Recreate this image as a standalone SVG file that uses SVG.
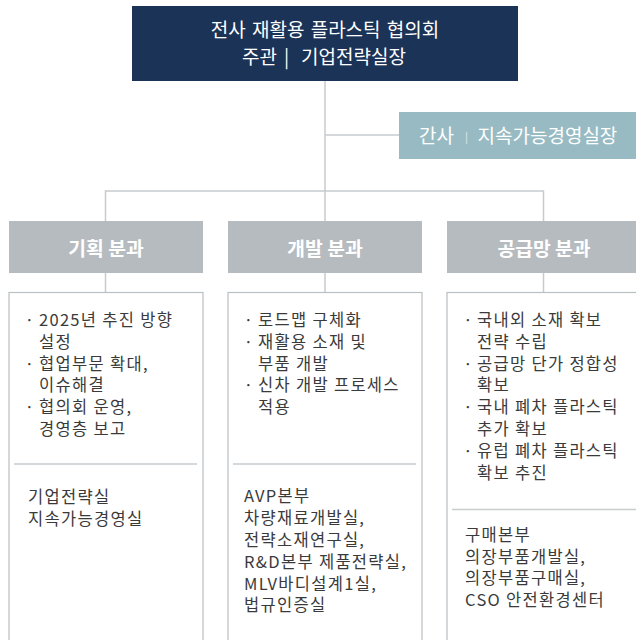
<svg xmlns="http://www.w3.org/2000/svg" width="636" height="640" viewBox="0 0 636 640">
<style>
text{font-family:"Noto Sans CJK KR","Noto Sans",sans-serif}
.top{fill:#1c3358}
.side{fill:#98bbc3}
.hdr{fill:#b5bbbf}
.box{fill:#fff;stroke:#b9bfc3;stroke-width:1.2}
.div{stroke:#c8cdd0;stroke-width:1.5}
.conn{stroke:#c6cbcf;stroke-width:1.5;fill:none}
.tw{fill:#fff;font-size:19px}
.th{fill:#fff;font-size:19.3px;font-weight:700}
.tb{fill:#3a3a3a;font-size:16.5px;letter-spacing:1.3px}
.bul{text-anchor:middle;letter-spacing:0}
</style>
<g id="connectors">
<path class="conn" d="M325 81V221M325 135H399M105.5 221V191H543.5V221M105.5 273V293M325 273V293M543.5 273V293"/>
</g>
<g id="node-top">
<rect class="top" x="132" y="6" width="386" height="75"/>
<text class="tw" x="325" y="37" text-anchor="middle" word-spacing="2">전사 재활용 플라스틱 협의회</text>
<text class="tw" y="64"><tspan x="242">주관</tspan><tspan x="284">|</tspan><tspan x="301">기업전략실장</tspan></text>
</g>
<g id="node-side">
<rect class="side" x="399" y="112" width="237" height="47"/>
<text class="tw" y="143" font-size="19.5"><tspan x="419">간사</tspan><tspan x="465" font-size="11" fill-opacity="0.7" dy="-2">|</tspan><tspan x="477.5" dy="2">지속가능경영실장</tspan></text>
</g>
<g id="node-plan">
<rect class="hdr" x="9" y="221" width="194" height="52"/>
<text class="th" x="106" y="256" text-anchor="middle">기획 분과</text>
<rect class="box" x="9" y="292.5" width="194" height="360"/>
<line class="div" x1="14" y1="464" x2="197" y2="464"/>
<text class="tb bul" x="29.5" y="326">·</text><text class="tb" x="39" y="326">2025년 추진 방향</text>
<text class="tb" x="39" y="347.8">설정</text>
<text class="tb bul" x="29.5" y="369.6">·</text><text class="tb" x="39" y="369.6">협업부문 확대,</text>
<text class="tb" x="39" y="391.4">이슈해결</text>
<text class="tb bul" x="29.5" y="413.2">·</text><text class="tb" x="39" y="413.2">협의회 운영,</text>
<text class="tb" x="39" y="435">경영층 보고</text>
<text class="tb" x="28" y="503">기업전략실</text>
<text class="tb" x="28" y="524.8">지속가능경영실</text>
</g>
<g id="node-dev">
<rect class="hdr" x="228" y="221" width="194" height="52"/>
<text class="th" x="325" y="256" text-anchor="middle">개발 분과</text>
<rect class="box" x="228" y="292.5" width="194" height="360"/>
<line class="div" x1="233" y1="464" x2="416" y2="464"/>
<text class="tb bul" x="248.5" y="326">·</text><text class="tb" x="258" y="326">로드맵 구체화</text>
<text class="tb bul" x="248.5" y="347.8">·</text><text class="tb" x="258" y="347.8">재활용 소재 및</text>
<text class="tb" x="258" y="369.6">부품 개발</text>
<text class="tb bul" x="248.5" y="391.4">·</text><text class="tb" x="258" y="391.4">신차 개발 프로세스</text>
<text class="tb" x="258" y="413.2">적용</text>
<text class="tb" x="244" y="502.3">AVP본부</text>
<text class="tb" x="244" y="524.1">차량재료개발실,</text>
<text class="tb" x="244" y="545.9">전략소재연구실,</text>
<text class="tb" x="244" y="567.7">R&amp;D본부 제품전략실,</text>
<text class="tb" x="244" y="589.5">MLV바디설계1실,</text>
<text class="tb" x="244" y="611.3">법규인증실</text>
</g>
<g id="node-supply">
<rect class="hdr" x="447" y="221" width="194" height="52"/>
<text class="th" x="544" y="256" text-anchor="middle">공급망 분과</text>
<rect class="box" x="447" y="292.5" width="200" height="360"/>
<line class="div" x1="452" y1="509.5" x2="640" y2="509.5"/>
<text class="tb bul" x="468" y="326">·</text><text class="tb" x="477" y="326">국내외 소재 확보</text>
<text class="tb" x="477" y="347.8">전략 수립</text>
<text class="tb bul" x="468" y="369.6">·</text><text class="tb" x="477" y="369.6">공급망 단가 정합성</text>
<text class="tb" x="477" y="391.4">확보</text>
<text class="tb bul" x="468" y="413.2">·</text><text class="tb" x="477" y="413.2">국내 폐차 플라스틱</text>
<text class="tb" x="477" y="435">추가 확보</text>
<text class="tb bul" x="468" y="456.8">·</text><text class="tb" x="477" y="456.8">유럽 폐차 플라스틱</text>
<text class="tb" x="477" y="478.6">확보 추진</text>
<text class="tb" x="465" y="540.7">구매본부</text>
<text class="tb" x="465" y="562.5">의장부품개발실,</text>
<text class="tb" x="465" y="584.3">의장부품구매실,</text>
<text class="tb" x="465" y="606.1">CSO 안전환경센터</text>
</g>
</svg>
